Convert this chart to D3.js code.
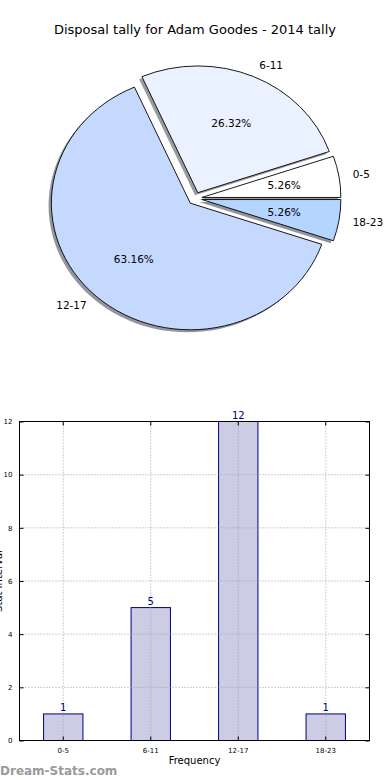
<!DOCTYPE html>
<html><head><meta charset="utf-8">
<script src="https://cdn.jsdelivr.net/npm/d3@7"></script>
<style>
html,body{margin:0;padding:0;background:#fff;}
text{font-family:"DejaVu Sans",sans-serif;}
</style></head>
<body>
<script>
const title = "Disposal tally for Adam Goodes - 2014 tally";
const categories = ["0-5", "6-11", "12-17", "18-23"];
const values = [1, 5, 12, 1];
const sliceColors = ["#ffffff", "#eaf1ff", "#c5d9ff", "#b4d5ff"];
const yTicks = [0, 2, 4, 6, 8, 10, 12];
const xLabel = "Frequency";
const yLabel = "Stat Interval";
const watermark = "Dream-Stats.com";

const W = 390, H = 780;
const svg = d3.select("body").append("svg").attr("width", W).attr("height", H);

// Title
svg.append("text").attr("x", 195).attr("y", 34).attr("text-anchor", "middle")
  .attr("font-size", 13).attr("fill", "#000").text(title);

// ---------- Pie ----------
const cx = 195, cy = 198.5, rx = 139, ry = 126.7, explode = 0.05;
const total = d3.sum(values);
const pie = d3.pie().sort(null).value(d => d)
  .startAngle(Math.PI / 2).endAngle(Math.PI / 2 - 2 * Math.PI);
const arcs = pie(values);
const unitArc = d3.arc().innerRadius(0).outerRadius(1);

function offsetFor(a, dist) {
  const m = (a.startAngle + a.endAngle) / 2;
  return [Math.sin(m) * dist * rx, -Math.cos(m) * dist * ry];
}

const pieG = svg.append("g");
// shadows
arcs.forEach((a, i) => {
  const [ox, oy] = offsetFor(a, explode);
  const c = d3.rgb(sliceColors[i]);
  pieG.append("path")
    .attr("d", unitArc(a))
    .attr("transform", `translate(${cx + ox - 0.02 * rx},${cy + oy + 0.02 * ry}) scale(${rx},${ry})`)
    .attr("fill", d3.rgb(c.r * 0.3, c.g * 0.3, c.b * 0.3))
    .attr("fill-opacity", 0.55);
});
// wedges
arcs.forEach((a, i) => {
  const [ox, oy] = offsetFor(a, explode);
  pieG.append("path")
    .attr("d", unitArc(a))
    .attr("transform", `translate(${cx + ox},${cy + oy}) scale(${rx},${ry})`)
    .attr("fill", sliceColors[i])
    .attr("stroke", "#000")
    .attr("stroke-width", 0.9)
    .attr("vector-effect", "non-scaling-stroke")
    .attr("stroke-linejoin", "miter");
});
// labels
arcs.forEach((a, i) => {
  const [ox, oy] = offsetFor(a, explode);
  const [lx, ly] = offsetFor(a, 1.1);
  const [px, py] = offsetFor(a, 0.6);
  pieG.append("text")
    .attr("x", cx + ox + lx).attr("y", cy + oy + ly)
    .attr("dy", "0.35em")
    .attr("text-anchor", lx > 0 ? "start" : "end")
    .attr("font-size", 10.5).attr("fill", "#000")
    .text(categories[i]);
  pieG.append("text")
    .attr("x", cx + ox + px).attr("y", cy + oy + py)
    .attr("dy", "0.35em")
    .attr("text-anchor", "middle")
    .attr("font-size", 10.5).attr("fill", "#000")
    .text((values[i] / total * 100).toFixed(2) + "%");
});

// ---------- Bar chart ----------
const L = 19.5, R = 369.5, T = 421.5, B = 740.5;
const x = d3.scaleBand().domain(categories).range([L, R]).paddingInner(0.55).paddingOuter(0.275);
const y = d3.scaleLinear().domain([0, 12]).range([B, T]);

const bg = svg.append("g");
// bars
bg.selectAll("rect.bar").data(values).enter().append("rect")
  .attr("x", (d, i) => x(categories[i]))
  .attr("y", d => y(d))
  .attr("width", x.bandwidth())
  .attr("height", d => B - y(d))
  .attr("fill", "#ccccE4")
  .attr("stroke", "#000080")
  .attr("stroke-width", 1);

// grid
yTicks.forEach(t => {
  bg.append("line").attr("x1", L).attr("x2", R).attr("y1", y(t)).attr("y2", y(t))
    .attr("stroke", "#a0a0a0").attr("stroke-width", 1).attr("stroke-dasharray", "1,2");
});
categories.forEach(c => {
  const cxp = x(c) + x.bandwidth() / 2;
  bg.append("line").attr("x1", cxp).attr("x2", cxp).attr("y1", T).attr("y2", B)
    .attr("stroke", "#a0a0a0").attr("stroke-width", 1).attr("stroke-dasharray", "1,2");
});

// frame
bg.append("rect").attr("x", L).attr("y", T).attr("width", R - L).attr("height", B - T)
  .attr("fill", "none").attr("stroke", "#000").attr("stroke-width", 1);

// y axis ticks (left and right, inward)
const yAxisL = d3.axisLeft(y).tickValues(yTicks).tickSizeInner(-4).tickSizeOuter(0).tickPadding(7);
const gyl = svg.append("g").attr("transform", `translate(${L},0)`).call(yAxisL);
gyl.select(".domain").remove();
gyl.selectAll("text").attr("font-size", 7).attr("fill", "#000").style("font-family", "DejaVu Sans");
const yAxisR = d3.axisRight(y).tickValues(yTicks).tickSizeInner(-4).tickSizeOuter(0).tickFormat("");
const gyr = svg.append("g").attr("transform", `translate(${R},0)`).call(yAxisR);
gyr.select(".domain").remove();

// x axis ticks (bottom and top, inward)
const xAxisB = d3.axisBottom(x).tickSizeInner(-4).tickSizeOuter(0).tickPadding(8);
const gxb = svg.append("g").attr("transform", `translate(0,${B})`).call(xAxisB);
gxb.select(".domain").remove();
gxb.selectAll("text").attr("font-size", 7).attr("fill", "#000").style("font-family", "DejaVu Sans");
const xAxisT = d3.axisTop(x).tickSizeInner(-4).tickSizeOuter(0).tickFormat("");
const gxt = svg.append("g").attr("transform", `translate(0,${T})`).call(xAxisT);
gxt.select(".domain").remove();

// value labels
bg.selectAll("text.val").data(values).enter().append("text")
  .attr("x", (d, i) => x(categories[i]) + x.bandwidth() / 2)
  .attr("y", d => y(d) - 3)
  .attr("text-anchor", "middle")
  .attr("font-size", 10).attr("fill", "#000080")
  .text(d => d);

// axis labels
svg.append("text").attr("x", (L + R) / 2).attr("y", 764).attr("text-anchor", "middle")
  .attr("font-size", 10).attr("fill", "#000").text(xLabel);
svg.append("text").attr("transform", `translate(2,${(T + B) / 2}) rotate(-90)`)
  .attr("text-anchor", "middle").attr("font-size", 10).attr("fill", "#000").text(yLabel);

// watermark
svg.append("text").attr("x", 0).attr("y", 775).attr("font-size", 12)
  .attr("fill", "#9a9a9a").attr("font-weight", "600").text(watermark);
</script>
</body></html>
